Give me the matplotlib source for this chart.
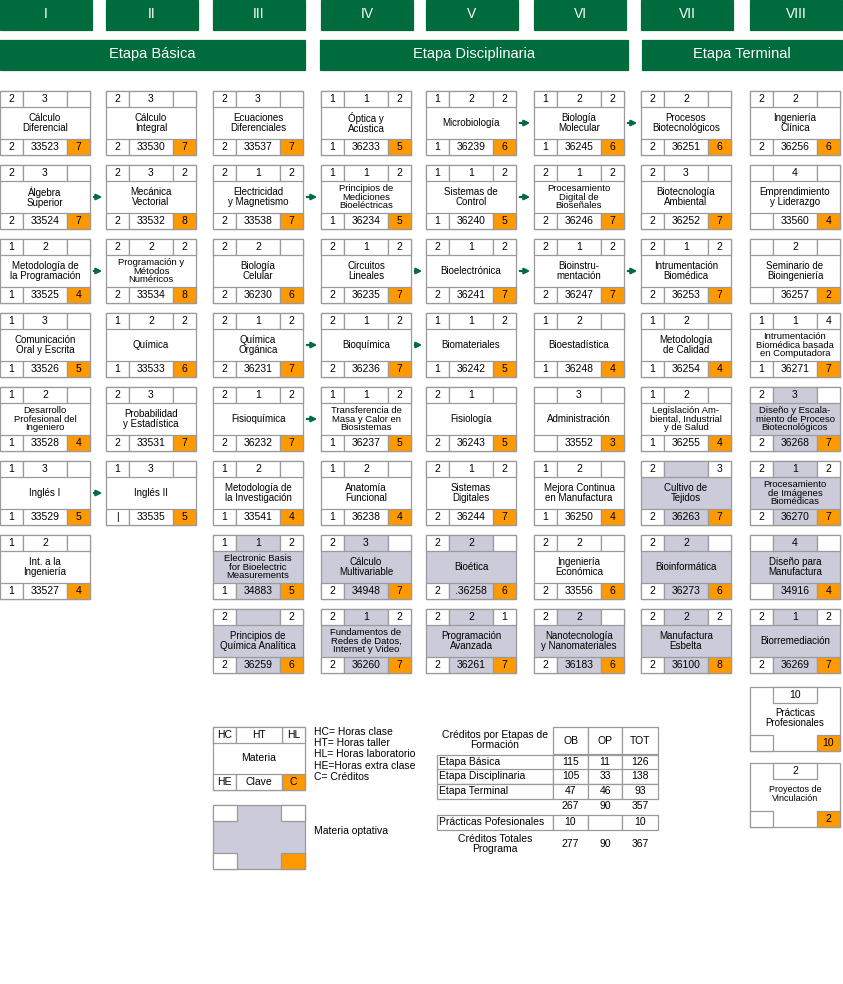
import matplotlib
matplotlib.use("Agg")
import matplotlib.pyplot as plt
from matplotlib.patches import Rectangle, FancyArrowPatch

plt.rcParams["font.family"] = "Liberation Sans"

semesters = ["I", "II", "III", "IV", "V", "VI", "VII", "VIII"]
stages = ["Etapa Básica", "Etapa Disciplinaria", "Etapa Terminal"]

# course data: column index, row index, name, HC, HT, HL, HE, clave, creditos, optativa
col_idx = [0]*7 + [1]*6 + [2]*8 + [3]*8 + [4]*8 + [5]*8 + [6]*8 + [7]*8
row_idx = list(range(7)) + list(range(6)) + list(range(8))*6
names = [
    "Cálculo\nDiferencial", "Álgebra\nSuperior", "Metodología de\nla Programación", "Comunicación\nOral y Escrita",
    "Desarrollo\nProfesional del\nIngeniero", "Inglés I", "Int. a la\nIngeniería",
    "Cálculo\nIntegral", "Mecánica\nVectorial", "Programación y\nMétodos\nNuméricos", "Química",
    "Probabilidad\ny Estadística", "Inglés II",
    "Ecuaciones\nDiferenciales", "Electricidad\ny Magnetismo", "Biología\nCelular", "Química\nOrgánica",
    "Fisioquímica", "Metodología de\nla Investigación", "Electronic Basis\nfor Bioelectric\nMeasurements",
    "Principios de\nQuímica Analítica",
    "Óptica y\nAcústica", "Principios de\nMediciones\nBioeléctricas", "Circuitos\nLineales", "Bioquímica",
    "Transferencia de\nMasa y Calor en\nBiosistemas", "Anatomía\nFuncional", "Cálculo\nMultivariable",
    "Fundamentos de\nRedes de Datos,\nInternet y Video",
    "Microbiología", "Sistemas de\nControl", "Bioelectrónica", "Biomateriales", "Fisiología",
    "Sistemas\nDigitales", "Bioética", "Programación\nAvanzada",
    "Biología\nMolecular", "Procesamiento\nDigital de\nBioseñales", "Bioinstru-\nmentación", "Bioestadística",
    "Administración", "Mejora Continua\nen Manufactura", "Ingeniería\nEconómica", "Nanotecnología\ny Nanomateriales",
    "Procesos\nBiotecnológicos", "Biotecnología\nAmbiental", "Intrumentación\nBiomédica", "Metodología\nde Calidad",
    "Legislación Am-\nbiental, Industrial\ny de Salud", "Cultivo de\nTejidos", "Bioinformática", "Manufactura\nEsbelta",
    "Ingeniería\nClínica", "Emprendimiento\ny Liderazgo", "Seminario de\nBioingeniería",
    "Intrumentación\nBiomédica basada\nen Computadora", "Diseño y Escala-\nmiento de Proceso\nBiotecnológicos",
    "Procesamiento\nde Imágenes\nBiomédicas", "Diseño para\nManufactura", "Biorremediación",
]
hc = ["2","2","1","1","1","1","1", "2","2","2","1","2","1",
      "2","2","2","2","2","1","1","2", "1","1","2","2","1","1","2","2",
      "1","1","2","1","2","2","2","2", "1","2","2","1","","1","2","2",
      "2","2","2","1","1","2","2","2", "2","","","1","2","2","","2"]
ht = ["3","3","2","3","2","3","2", "3","3","2","2","3","3",
      "3","1","2","1","1","2","1","", "1","1","1","1","1","2","3","1",
      "2","1","1","1","1","1","2","2", "2","1","1","2","3","2","2","2",
      "2","3","1","2","2","","2","2", "2","4","2","1","3","1","4","1"]
hl = ["","","","","","","", "","2","2","2","","",
      "","2","","2","2","","2","2", "2","2","2","2","2","","","2",
      "2","2","2","2","","2","","1", "2","2","2","","","","","",
      "","","2","","","3","","2", "","","","4","","2","","2"]
he = ["2","2","1","1","1","1","1", "2","2","2","1","2","|",
      "2","2","2","2","2","1","1","2", "1","1","2","2","1","1","2","2",
      "1","1","2","1","2","2","2","2", "1","2","2","1","","1","2","2",
      "2","2","2","1","1","2","2","2", "2","","","1","2","2","","2"]
clave = ["33523","33524","33525","33526","33528","33529","33527",
         "33530","33532","33534","33533","33531","33535",
         "33537","33538","36230","36231","36232","33541","34883","36259",
         "36233","36234","36235","36236","36237","36238","34948","36260",
         "36239","36240","36241","36242","36243","36244",".36258","36261",
         "36245","36246","36247","36248","33552","36250","33556","36183",
         "36251","36252","36253","36254","36255","36263","36273","36100",
         "36256","33560","36257","36271","36268","36270","34916","36269"]
creditos = ["7","7","4","5","4","5","4", "7","8","8","6","7","5",
            "7","7","6","7","7","4","5","6", "5","5","7","7","5","4","7","7",
            "6","5","7","5","5","7","6","7", "6","7","7","4","3","4","6","6",
            "6","7","7","4","4","7","6","8", "6","4","2","7","7","7","4","7"]
optativa = [0]*7 + [0]*6 + [0]*6 + [1,1] + [0]*6 + [1,1] + [0]*6 + [1,1] + [0]*7 + [1] \
    + [0]*5 + [1,1,1] + [0]*4 + [1,1,1,1]

# arrows: (from column, row)
arrows = [(0,1),(0,2),(0,5),(2,1),(2,3),(2,4),(3,2),(3,3),(4,0),(4,1),(4,2),(5,0),(5,2)]

extra_names = ["Prácticas\nProfesionales", "Proyectos de\nVinculación"]
extra_ht = ["10", "2"]
extra_cred = ["10", "2"]

table_rows = ["Etapa Básica", "Etapa Disciplinaria", "Etapa Terminal", "", "Prácticas Pofesionales", "Créditos Totales\nPrograma"]
table_ob = ["115", "105", "47", "267", "10", "277"]
table_op = ["11", "33", "46", "90", "", "90"]
table_tot = ["126", "138", "93", "357", "10", "367"]

GREEN = "#006b3c"
ORANGE = "#ff9900"
GRAY = "#cccbd9"
EDGE = "#9a9a9a"
COLX = [0, 106, 213, 321, 426, 534, 641, 750]
W, H = 90, 64
ROWY = [91 + 74*i for i in range(8)]

fig = plt.figure(figsize=(8.43, 9.84), dpi=100)
ax = fig.add_axes([0, 0, 1, 1])
ax.set_xlim(0, 843); ax.set_ylim(984, 0); ax.axis("off")

def rect(x, y, w, h, fc="white", ec=EDGE, lw=0.9, z=1):
    ax.add_patch(Rectangle((x, y), w, h, facecolor=fc, edgecolor=ec, lw=lw, zorder=z))

def txt(x, y, s, size=7, **kw):
    ax.text(x, y, s, fontsize=size, ha=kw.pop("ha", "center"), va=kw.pop("va", "center"),
            linespacing=0.95, zorder=5, **kw)

def course(x, y, name, a, b, c, d, e, f, opt, namesize=7):
    cw = 23; ch = 16
    rect(x, y, W, H, fc=GRAY if opt else "white")
    # top cells
    rect(x, y, cw, ch)
    rect(x + cw, y, W - 2*cw, ch, fc=GRAY if opt else "white")
    rect(x + W - cw, y, cw, ch)
    rect(x, y + H - ch, cw, ch)
    rect(x + cw, y + H - ch, W - 2*cw, ch, fc=GRAY if opt else "white")
    rect(x + W - cw, y + H - ch, cw, ch, fc=ORANGE)
    txt(x + cw/2, y + ch/2, a, 7.5)
    txt(x + W/2, y + ch/2, b, 7.5)
    txt(x + W - cw/2, y + ch/2, c, 7.5)
    txt(x + cw/2, y + H - ch/2, d, 7.5)
    txt(x + W/2, y + H - ch/2, e, 7.5)
    txt(x + W - cw/2, y + H - ch/2, f, 7.5)
    nl = name.count("\n")
    txt(x + W/2, y + H/2, name, namesize if nl < 2 else 6.8)

# headers
for i, s in enumerate(semesters):
    rect(COLX[i], 0, 92, 30, fc=GREEN, ec=GREEN)
    txt(COLX[i] + 46, 14, s, 10, color="white")
stage_span = [(0, 305), (320, 628), (642, 842)]
for s, (a, b) in zip(stages, stage_span):
    rect(a, 40, b - a, 30, fc=GREEN, ec=GREEN)
    txt((a + b)/2, 54, s, 10.5, color="white")

for i in range(len(names)):
    course(COLX[col_idx[i]], ROWY[row_idx[i]], names[i], hc[i], ht[i], hl[i], he[i],
           clave[i], creditos[i], optativa[i])

for (c, r) in arrows:
    x0 = COLX[c] + W + 1; x1 = COLX[c + 1] - 1; yy = ROWY[r] + H/2
    ax.add_patch(FancyArrowPatch((x0, yy), (x1, yy), arrowstyle="-|>", mutation_scale=8,
                                 color=GREEN, lw=1.6, zorder=6))

# extra courses in column VIII
for j, y in enumerate([687, 763]):
    x = 750
    rect(x, y, W, H)
    rect(x + 23, y, W - 46, 16)
    rect(x, y + H - 16, 23, 16)
    rect(x + W - 23, y + H - 16, 23, 16, fc=ORANGE)
    txt(x + W/2, y + 8, extra_ht[j], 7.5)
    txt(x + W - 11.5, y + H - 8, extra_cred[j], 7.5)
    txt(x + W/2, y + 31, extra_names[j], 7 if j == 0 else 6.5)

# legend box
lx, ly = 213, 727
rect(lx, ly, 92, 63)
rect(lx, ly, 23, 16); rect(lx + 69, ly, 23, 16); rect(lx + 23, ly, 46, 16)
rect(lx, ly + 47, 23, 16); rect(lx + 23, ly + 47, 46, 16); rect(lx + 69, ly + 47, 23, 16, fc=ORANGE)
for (xx, yy, s) in [(11.5, 8, "HC"), (46, 8, "HT"), (80.5, 8, "HL"), (46, 31, "Materia"),
                    (11.5, 55, "HE"), (46, 55, "Clave"), (80.5, 55, "C")]:
    txt(lx + xx, ly + yy, s, 7.5)
legend_lines = "HC= Horas clase\nHT= Horas taller\nHL= Horas laboratorio\nHE=Horas extra clase\nC= Créditos"
ax.text(314, 727, legend_lines, fontsize=7.5, ha="left", va="top", linespacing=1.15)

oy = 805
rect(lx, oy, 92, 64, fc=GRAY)
rect(lx, oy, 24, 16); rect(lx + 68, oy, 24, 16)
rect(lx, oy + 48, 24, 16); rect(lx + 68, oy + 48, 24, 16, fc=ORANGE)
txt(314, 831, "Materia optativa", 7.5, ha="left")

# credits table
tx = [437, 553, 588, 622, 658]
rect(tx[1], 727, tx[2] - tx[1], 27); rect(tx[2], 727, tx[3] - tx[2], 27); rect(tx[3], 727, tx[4] - tx[3], 27)
txt(495, 740, "Créditos por Etapas de\nFormación", 7.5)
for s, xc in zip(["OB", "OP", "TOT"], [570.5, 605, 640]):
    txt(xc, 741, s, 7.5)
row_y = [762, 776, 791, 806, 822, 844]
for k in range(6):
    yc = row_y[k]
    if k in (0, 1, 2, 4):
        for a, b in zip(tx[:-1], tx[1:]):
            rect(a, yc - 7.5, b - a, 15)
    if k == 5:
        txt(495, yc, table_rows[k], 7.5)
    elif table_rows[k]:
        txt(439, yc, table_rows[k], 7.5, ha="left")
    txt(570.5, yc, table_ob[k], 7.5)
    txt(605, yc, table_op[k], 7.5)
    txt(640, yc, table_tot[k], 7.5)

fig.savefig("out.png", dpi=100, facecolor="white")
